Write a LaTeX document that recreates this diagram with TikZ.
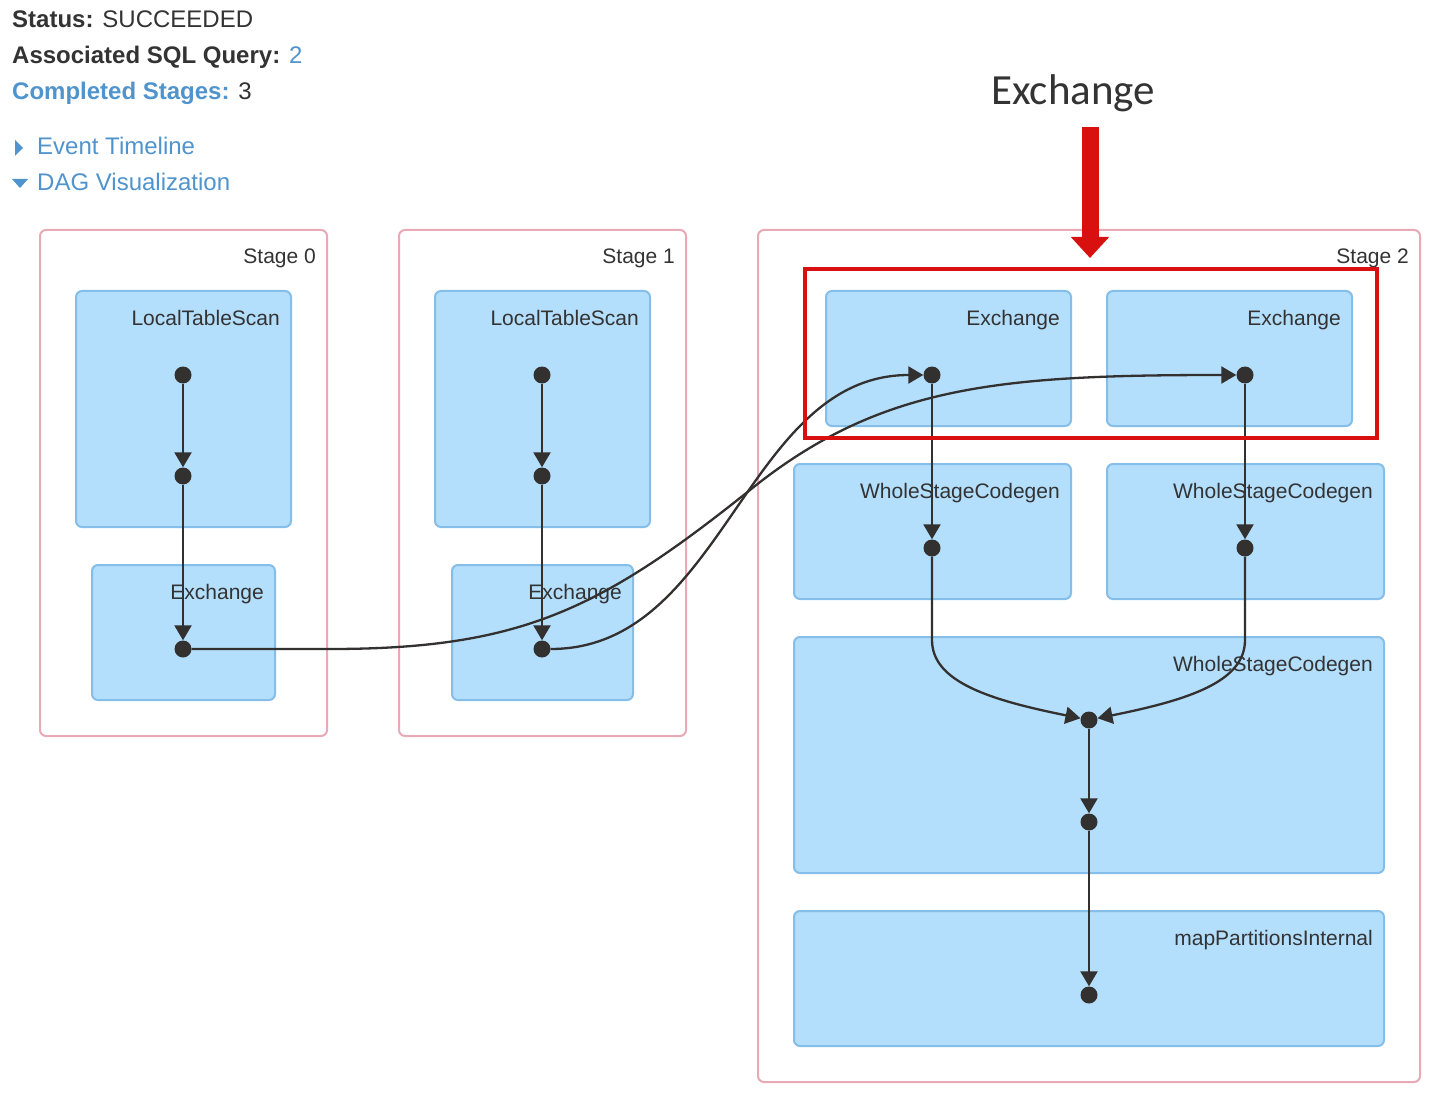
\documentclass[tikz,border=0pt]{standalone}
\usepackage{fontspec}
\setmainfont{Liberation Sans}
\newfontfamily\calibfont{Carlito}
\usetikzlibrary{arrows.meta}
\definecolor{txt}{RGB}{51,51,51}
\definecolor{linkb}{RGB}{80,148,205}
\definecolor{stagec}{RGB}{232,170,182}
\definecolor{boxfill}{RGB}{179,222,252}
\definecolor{boxline}{RGB}{134,190,234}
\definecolor{edgec}{RGB}{51,48,48}
\definecolor{redc}{RGB}{216,16,16}
\begin{document}
\begin{tikzpicture}[x=1pt,y=-1pt,
  stagebox/.style={draw=stagec, line width=2pt, rounded corners=6pt},
  opbox/.style={draw=boxline, fill=boxfill, line width=2pt, rounded corners=6pt},
  lbl/.style={anchor=base east, text=txt, font=\fontsize{21}{25}\selectfont, inner sep=0pt},
  toptxt/.style={anchor=base west, text=txt, font=\fontsize{24}{28}\selectfont, inner sep=0pt},
  dotnode/.style={circle, fill=edgec, minimum size=17pt, inner sep=0pt},
  edge/.style={draw=edgec, line width=2.3pt, -{Triangle[length=15pt,width=17pt]}},
  redbox/.style={draw=redc, line width=4pt},
  redarrow/.style={draw=redc, line width=17pt, -{Triangle[length=21pt,width=37pt]}}
]
\useasboundingbox (0,0) rectangle (1440,1099);
\fill[white] (0,0) rectangle (1440,1099);

% header texts
\node[toptxt] (status) at (12,28) {\textbf{Status:} SUCCEEDED};
\node[toptxt] (assoc) at (12,64) {\textbf{Associated SQL Query:} \textcolor{linkb}{2}};
\node[toptxt] (compl) at (12,100) {\textcolor{linkb}{\textbf{Completed Stages:}} 3};
\node[toptxt, text=linkb] (evt) at (37,155) {Event Timeline};
\node[toptxt, text=linkb] (dag) at (37,191) {DAG Visualization};
\fill[linkb] (15,140) -- (23,148) -- (15,156) -- cycle;
\fill[linkb] (12,179) -- (28,179) -- (20,188) -- cycle;

% stages
\path[stagebox] (40,230) rectangle (327,736);
\path[stagebox] (399,230) rectangle (686,736);
\path[stagebox] (758,230) rectangle (1420,1082);
\node[lbl] (st0) at (316,264) {Stage 0};
\node[lbl] (st1) at (675,264) {Stage 1};
\node[lbl] (st2) at (1409,264) {Stage 2};

% operator boxes
\path[opbox] (76,291) rectangle (291,527);
\path[opbox] (92,565) rectangle (275,700);
\path[opbox] (435,291) rectangle (650,527);
\path[opbox] (452,565) rectangle (633,700);
\path[opbox] (826,291) rectangle (1071,426);
\path[opbox] (1107,291) rectangle (1352,426);
\path[opbox] (794,464) rectangle (1071,599);
\path[opbox] (1107,464) rectangle (1384,599);
\path[opbox] (794,637) rectangle (1384,873);
\path[opbox] (794,911) rectangle (1384,1046);

\node[lbl] (l0a) at (280,325) {LocalTableScan};
\node[lbl] (l0b) at (264,599) {Exchange};
\node[lbl] (l1a) at (639,325) {LocalTableScan};
\node[lbl] (l1b) at (622,599) {Exchange};
\node[lbl] (l2a) at (1060,325) {Exchange};
\node[lbl] (l2b) at (1341,325) {Exchange};
\node[lbl] (l2c) at (1060,498) {WholeStageCodegen};
\node[lbl] (l2d) at (1373,498) {WholeStageCodegen};
\node[lbl] (l2e) at (1373,671) {WholeStageCodegen};
\node[lbl] (l2f) at (1373,945) {mapPartitionsInternal};

% dots
\node[dotnode] (s0a) at (183,375) {};
\node[dotnode] (s0b) at (183,476) {};
\node[dotnode] (s0c) at (183,649) {};
\node[dotnode] (s1a) at (542,375) {};
\node[dotnode] (s1b) at (542,476) {};
\node[dotnode] (s1c) at (542,649) {};
\node[dotnode] (e1) at (932,375) {};
\node[dotnode] (e2) at (1245,375) {};
\node[dotnode] (w1) at (932,548) {};
\node[dotnode] (w2) at (1245,548) {};
\node[dotnode] (m1) at (1089,720) {};
\node[dotnode] (m2) at (1089,822) {};
\node[dotnode] (m3) at (1089,995) {};

% edges
\draw[edge] (s0a) -- (s0b);
\draw[edge] (s0b) -- (s0c);
\draw[edge] (s1a) -- (s1b);
\draw[edge] (s1b) -- (s1c);
\draw[edge] (s0c) -- (330,649) .. controls (520,649) and (600,610) .. (750,490) .. controls (880,385) and (1000,375) .. (e2);
\draw[edge] (s1c) .. controls (725,649) and (745,375) .. (e1);
\draw[edge] (e1) -- (w1);
\draw[edge] (e2) -- (w2);
\draw[edge] (w1) -- (932,640) .. controls (932,682) and (990,700) .. (m1);
\draw[edge] (w2) -- (1245,640) .. controls (1245,682) and (1188,700) .. (m1);
\draw[edge] (m1) -- (m2);
\draw[edge] (m2) -- (m3);

% annotation
\path[redbox] (805,269) rectangle (1377,438);
\node[anchor=base west, inner sep=0pt, text=txt, font=\calibfont\fontsize{43}{50}\selectfont] (exlabel) at (991,105) {Exchange};
\coordinate (ra1) at (1090,127);
\coordinate (ra2) at (1090,258);
\draw[redarrow] (ra1) -- (ra2);
\end{tikzpicture}
\end{document}
